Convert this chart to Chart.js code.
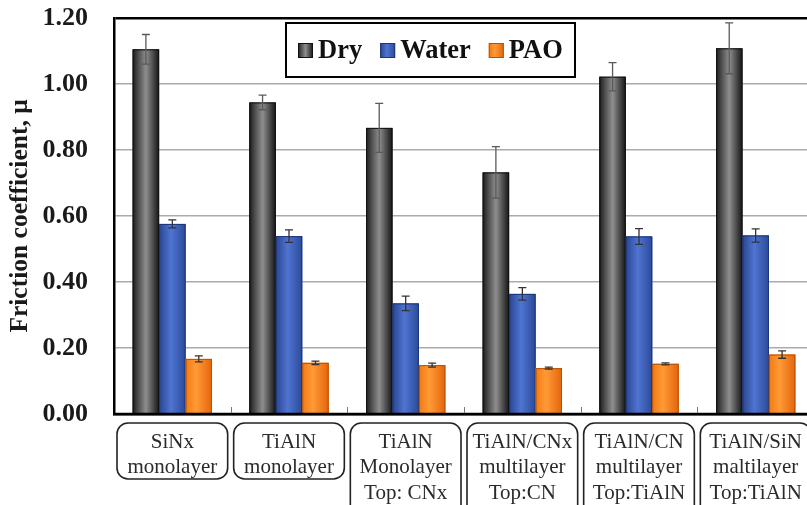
<!DOCTYPE html>
<html>
<head>
<meta charset="utf-8">
<script src="https://cdn.jsdelivr.net/npm/chart.js@4"></script>
<style>
html,body{margin:0;padding:0;background:#fff;overflow:hidden;}
#wrap{width:816px;height:505px;position:relative;}
</style>
</head>
<body>
<div id="wrap"><canvas id="chart"></canvas></div>
<script>
// categories (each line of the boxed label)
var categories = [
	['SiNx','monolayer'],
	['TiAlN','monolayer'],
	['TiAlN','Monolayer','Top: CNx'],
	['TiAlN/CNx','multilayer','Top:CN'],
	['TiAlN/CN','multilayer','Top:TiAlN'],
	['TiAlN/SiN','maltilayer','Top:TiAlN']
];
var seriesNames = ['Dry','Water','PAO'];
var dry = [1.105, 0.944, 0.867, 0.732, 1.022, 1.108];
var dryErr = [0.045, 0.022, 0.074, 0.078, 0.043, 0.077];
var water = [0.576, 0.539, 0.335, 0.364, 0.538, 0.541];
var waterErr = [0.012, 0.019, 0.022, 0.019, 0.024, 0.020];
var pao = [0.167, 0.155, 0.148, 0.139, 0.152, 0.180];
var paoErr = [0.009, 0.005, 0.006, 0.003, 0.003, 0.011];
var yTicks = [0, 0.2, 0.4, 0.6, 0.8, 1.0, 1.2];

var SERIF = '"Liberation Serif", "Times New Roman", serif';

// colour stops for the cylinder look of each series
var shades = [
	{stops:[[0,'#1a1a1a'],[0.18,'#474747'],[0.5,'#8e8e8e'],[0.82,'#404040'],[1,'#151515']], edge:'#111', err:'#5a5a5a'},
	{stops:[[0,'#2a4590'],[0.45,'#4f74d2'],[1,'#2b4a98']], edge:'#1d3576', err:'#333'},
	{stops:[[0,'#f27a14'],[0.4,'#ff9a36'],[1,'#e4650c']], edge:'#b45208', err:'#333'}
];
var errors = [dryErr, waterErr, paoErr];

function barFill(ctx, i, x0, w){
	var g = ctx.createLinearGradient(x0, 0, x0 + w, 0);
	shades[i].stops.forEach(function(s){ g.addColorStop(s[0], s[1]); });
	return g;
}

var paintPlugin = {
	id: 'paint',
	afterDatasetsDraw: function(chart){
		var ctx = chart.ctx, ys = chart.scales.y;
		ctx.save();
		chart.data.datasets.forEach(function(ds, di){
			var meta = chart.getDatasetMeta(di);
			meta.data.forEach(function(el, k){
				var x0 = el.x - el.width/2, h = el.base - el.y;
				ctx.fillStyle = barFill(ctx, di, x0, el.width);
				ctx.fillRect(x0, el.y, el.width, h);
				ctx.strokeStyle = shades[di].edge;
				ctx.lineWidth = 1;
				ctx.strokeRect(x0 + 0.5, el.y + 0.5, el.width - 1, h);
				// error bar
				var v = ds.data[k], e = errors[di][k];
				var yt = ys.getPixelForValue(v + e), yb = ys.getPixelForValue(v - e);
				ctx.strokeStyle = shades[di].err;
				ctx.lineWidth = 1.3;
				ctx.beginPath();
				ctx.moveTo(el.x, yt); ctx.lineTo(el.x, yb);
				ctx.moveTo(el.x - 4, yt); ctx.lineTo(el.x + 4, yt);
				ctx.moveTo(el.x - 4, yb); ctx.lineTo(el.x + 4, yb);
				ctx.stroke();
			});
		});
		ctx.restore();
	},
	afterDraw: function(chart){
		var ctx = chart.ctx, xs = chart.scales.x, a = chart.chartArea;
		var n = categories.length;
		var catW = (xs.getPixelForValue(n - 1) - xs.getPixelForValue(0)) / (n - 1);
		ctx.save();
		// bottom axis redrawn over bars
		ctx.strokeStyle = '#000'; ctx.lineWidth = 2.5;
		ctx.beginPath(); ctx.moveTo(a.left - 1, a.bottom); ctx.lineTo(a.right, a.bottom); ctx.stroke();
		// small inner ticks between categories
		ctx.strokeStyle = '#777'; ctx.lineWidth = 1;
		for (var i = 1; i < n; i++){
			var bx = Math.round(xs.getPixelForValue(i) - catW/2) + 0.5;
			ctx.beginPath(); ctx.moveTo(bx, a.bottom - 1); ctx.lineTo(bx, a.bottom - 7); ctx.stroke();
		}
		// boxed category labels
		ctx.font = '21px ' + SERIF;
		ctx.textAlign = 'center';
		ctx.textBaseline = 'middle';
		categories.forEach(function(lines, i){
			var cx = xs.getPixelForValue(i);
			var left = cx - catW/2 + 3, w = catW - 6;
			var top = a.bottom + 9;
			var h = lines.length > 2 ? 110 : 56;
			ctx.strokeStyle = '#222'; ctx.lineWidth = 1.6;
			ctx.beginPath();
			ctx.roundRect(left, top, w, h, 11);
			ctx.stroke();
			ctx.fillStyle = '#2a2a2a';
			lines.forEach(function(t, j){
				ctx.fillText(t, cx, a.bottom + 28 + j * 25.5);
			});
		});
		// legend box
		var lx = a.left + 172, ly = a.top + 5, lw = 289, lh = 54;
		ctx.fillStyle = '#fff';
		ctx.fillRect(lx, ly, lw, lh);
		ctx.strokeStyle = '#000'; ctx.lineWidth = 2;
		ctx.strokeRect(lx, ly, lw, lh);
		ctx.font = 'bold 26.5px ' + SERIF;
		ctx.textAlign = 'left';
		var px = lx + 12, my = ly + lh/2;
		chart.data.datasets.forEach(function(ds, di){
			ctx.fillStyle = barFill(ctx, di, px, 15);
			ctx.fillRect(px, my - 7, 15, 15);
			ctx.strokeStyle = shades[di].edge; ctx.lineWidth = 1;
			ctx.strokeRect(px + 0.5, my - 6.5, 14, 14);
			ctx.fillStyle = '#111';
			ctx.fillText(ds.label, px + 20, my + 1);
			px += 20 + ctx.measureText(ds.label).width + 18;
		});
		ctx.restore();
	}
};

var config = {
	type: 'bar',
	data: {
		labels: categories,
		datasets: [
			{label: seriesNames[0], data: dry, backgroundColor: '#555'},
			{label: seriesNames[1], data: water, backgroundColor: '#3f62bd'},
			{label: seriesNames[2], data: pao, backgroundColor: '#f78a26'}
		]
	},
	options: {
		responsive: true,
		maintainAspectRatio: false,
		devicePixelRatio: 1,
		animation: false,
		categoryPercentage: 0.68,
		barPercentage: 1,
		layout: {padding: {top: 18, right: 2, bottom: 0, left: 0}},
		plugins: {legend: {display: false}, tooltip: {enabled: false}},
		scales: {
			x: {
				ticks: {display: false},
				grid: {display: false},
				border: {color: '#000', width: 2.5},
				afterFit: function(s){ s.height = 91; }
			},
			y: {
				min: 0,
				max: 1.2,
				afterBuildTicks: function(s){ s.ticks = yTicks.map(function(v){ return {value: v}; }); },
				ticks: {
					padding: 26,
					color: '#1a1a1a',
					font: {family: SERIF, size: 26, weight: 'bold'},
					callback: function(v){ return Number(v).toFixed(2); }
				},
				grid: {
					drawTicks: false,
					color: function(c){ return c.tick && Math.abs(c.tick.value - 1.2) < 1e-6 ? '#000' : '#ababab'; },
					lineWidth: function(c){ return c.tick && Math.abs(c.tick.value - 1.2) < 1e-6 ? 2.5 : 1.6; }
				},
				border: {color: '#000', width: 2.5},
				title: {
					display: true,
					text: 'Friction coefficient, μ',
					color: '#1a1a1a',
					font: {family: SERIF, size: 25.5, weight: 'bold'},
					padding: {top: 5, bottom: 0}
				},
				afterFit: function(s){ s.width = 114; s.paddingTop = 0; s.paddingBottom = 0; }
			}
		}
	},
	plugins: [paintPlugin]
};

new Chart(document.getElementById('chart').getContext('2d'), config);
</script>
</body>
</html>
